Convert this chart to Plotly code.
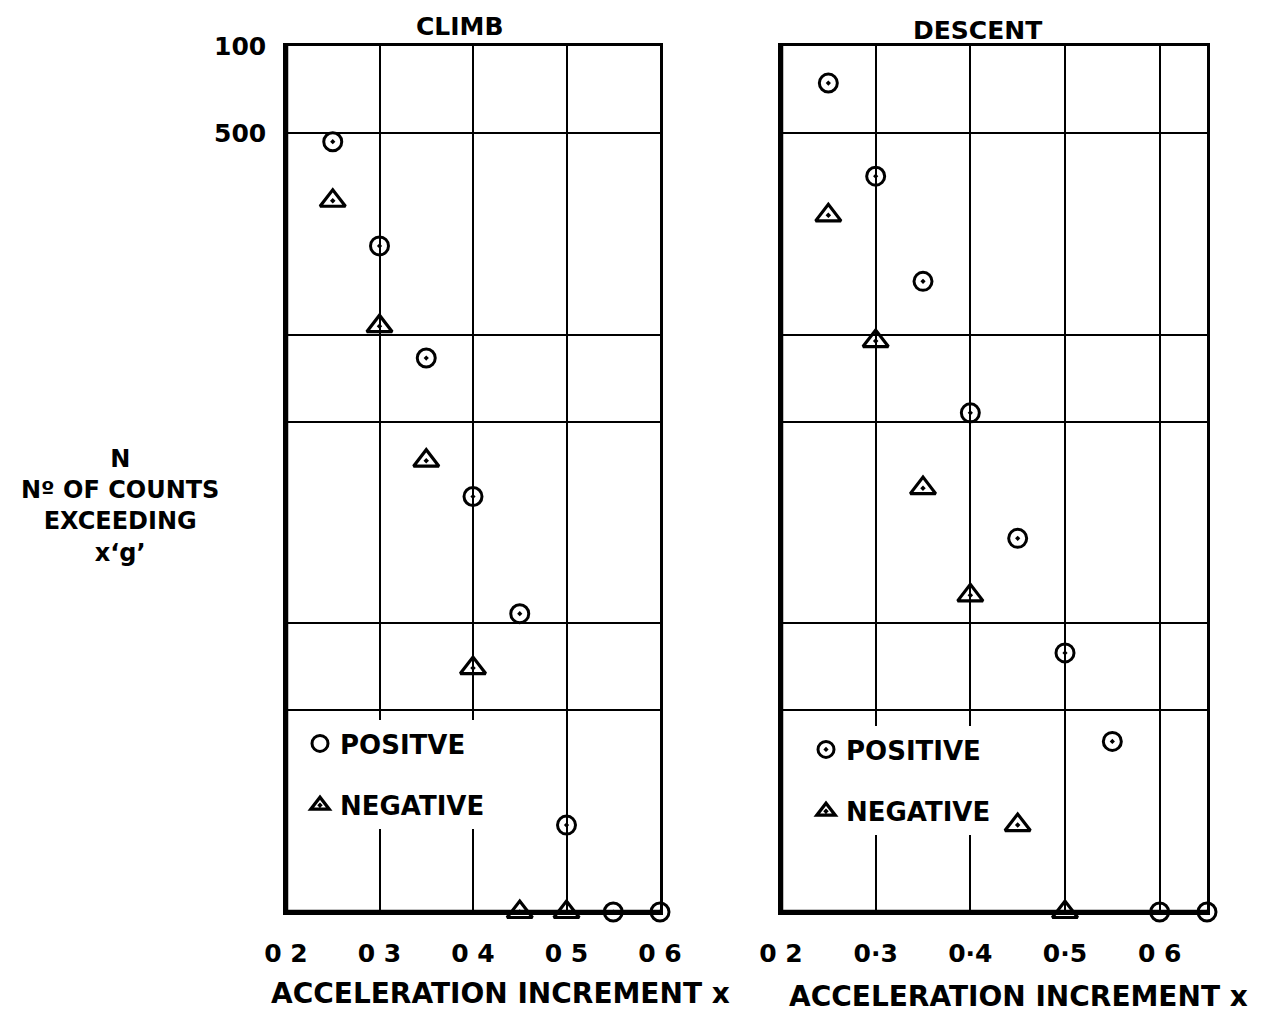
import plotly.graph_objects as go

# ---- data ----
climb_x_pos = [0.25, 0.30, 0.35, 0.40, 0.45, 0.50, 0.55, 0.60]
climb_n_pos = [466, 203, 83, 27.5, 10.8, 2.0, 1, 1]
climb_x_neg = [0.25, 0.30, 0.35, 0.40, 0.45, 0.50]
climb_n_neg = [291, 107, 36.6, 7.0, 1, 1]

descent_x_pos = [0.25, 0.30, 0.35, 0.40, 0.45, 0.50, 0.55, 0.60, 0.65]
descent_n_pos = [744, 354, 153, 53.6, 19.7, 7.9, 3.9, 1, 1]
descent_x_neg = [0.25, 0.30, 0.35, 0.40, 0.45, 0.50]
descent_n_neg = [259, 95, 29.4, 12.5, 2.0, 1]

x_tickvals = [0.2, 0.3, 0.4, 0.5, 0.6]
climb_x_ticktext = ["0 2", "0 3", "0 4", "0 5", "0 6"]
descent_x_ticktext = ["0 2", "0·3", "0·4", "0·5", "0 6"]
y_tickvals = [1, 5, 10, 50, 100, 500, 1000]
y_ticktext = ["", "", "", "", "", "500", "100"]

FONT = "DejaVu Sans"
BLACK = "black"

fig = go.Figure()

mk_circ = dict(symbol="circle-open-dot", size=18, color=BLACK, line=dict(width=3, color=BLACK))
mk_tri = dict(symbol="triangle-up-open-dot", size=22, color=BLACK, line=dict(width=3.2, color=BLACK))

# climb data
fig.add_trace(go.Scatter(x=climb_x_pos, y=climb_n_pos, mode="markers", marker=mk_circ,
                         xaxis="x", yaxis="y", showlegend=False, cliponaxis=False))
fig.add_trace(go.Scatter(x=climb_x_neg, y=climb_n_neg, mode="markers", marker=mk_tri,
                         xaxis="x", yaxis="y", showlegend=False, cliponaxis=False))
# climb legend entries
fig.add_trace(go.Scatter(x=[None], y=[None], mode="markers", name="POSITVE",
                         marker=dict(symbol="circle-open", size=18, color=BLACK, line=dict(width=3, color=BLACK)),
                         xaxis="x", yaxis="y", legend="legend", legendgroup="a"))
fig.add_trace(go.Scatter(x=[None], y=[None], mode="markers", name="NEGATIVE",
                         marker=mk_tri, xaxis="x", yaxis="y", legend="legend", legendgroup="b"))

# descent data
fig.add_trace(go.Scatter(x=descent_x_pos, y=descent_n_pos, mode="markers", marker=mk_circ,
                         xaxis="x2", yaxis="y2", showlegend=False, cliponaxis=False))
fig.add_trace(go.Scatter(x=descent_x_neg, y=descent_n_neg, mode="markers", marker=mk_tri,
                         xaxis="x2", yaxis="y2", showlegend=False, cliponaxis=False))
fig.add_trace(go.Scatter(x=[None], y=[None], mode="markers", name="POSITIVE",
                         marker=mk_circ, xaxis="x2", yaxis="y2", legend="legend2", legendgroup="c"))
fig.add_trace(go.Scatter(x=[None], y=[None], mode="markers", name="NEGATIVE",
                         marker=mk_tri, xaxis="x2", yaxis="y2", legend="legend2", legendgroup="d"))

W, H = 1276, 1012
ydom = [1 - 912 / H, 1 - 46 / H]

common_x = dict(showgrid=True, gridcolor=BLACK, gridwidth=1.6, zeroline=False,
                showline=True, linecolor=BLACK, linewidth=2.5, mirror=True,
                ticks="", tickvals=x_tickvals, ticklabelstandoff=17, automargin=False,
                tickfont=dict(family=FONT, size=25, color=BLACK, weight="bold"))
common_y = dict(type="log", range=[0, 3], showgrid=True, gridcolor=BLACK, gridwidth=1.6,
                zeroline=False, showline=True, linecolor=BLACK, linewidth=2.5, mirror=True,
                ticks="", tickvals=y_tickvals, domain=ydom, automargin=False,
                tickfont=dict(family=FONT, size=25, color=BLACK, weight="bold"))

legend_font = dict(family=FONT, size=26, color=BLACK, weight="bold")

fig.update_layout(
    width=W, height=H,
    margin=dict(l=0, r=0, t=0, b=0, autoexpand=False),
    paper_bgcolor="white", plot_bgcolor="white",
    xaxis=dict(common_x, domain=[286 / W, 660 / W], range=[0.2, 0.6],
               ticktext=climb_x_ticktext, anchor="y"),
    yaxis=dict(common_y, anchor="x", ticktext=y_ticktext, ticklabelstandoff=12),
    xaxis2=dict(common_x, domain=[781 / W, 1207 / W], range=[0.2, 0.65],
                ticktext=descent_x_ticktext, anchor="y2"),
    yaxis2=dict(common_y, anchor="x2", showticklabels=False),
    legend=dict(x=300 / W, y=1 - 720 / H, xanchor="left", yanchor="top",
                bgcolor="white", borderwidth=0, tracegroupgap=25,
                traceorder="grouped", font=legend_font),
    legend2=dict(x=806 / W, y=1 - 726 / H, xanchor="left", yanchor="top",
                 bgcolor="white", borderwidth=0, tracegroupgap=25,
                 traceorder="grouped", font=legend_font),
)

# heavy left/bottom frame lines
for xr, yr in (("x domain", "y domain"), ("x2 domain", "y2 domain")):
    fig.add_shape(type="line", xref=xr, yref=yr, x0=0, x1=0, y0=0, y1=1,
                  line=dict(color=BLACK, width=4.5))
    fig.add_shape(type="line", xref=xr, yref=yr, x0=0, x1=1, y0=0, y1=0,
                  line=dict(color=BLACK, width=4.5))


def label(text, px, py, size):
    fig.add_annotation(text=text, x=px / W, y=1 - py / H, xref="paper", yref="paper",
                       xanchor="center", yanchor="middle", showarrow=False, align="center",
                       font=dict(family=FONT, size=size, color=BLACK, weight="bold"))


label("CLIMB", 460, 27, 25)
label("DESCENT", 977, 30, 25)
label("ACCELERATION INCREMENT x", 500, 993, 28)
label("ACCELERATION INCREMENT x", 1018, 996, 28)
label("N<br>Nº OF COUNTS<br>EXCEEDING<br>x‘g’", 120, 506, 24)

fig.write_html("out.html")
